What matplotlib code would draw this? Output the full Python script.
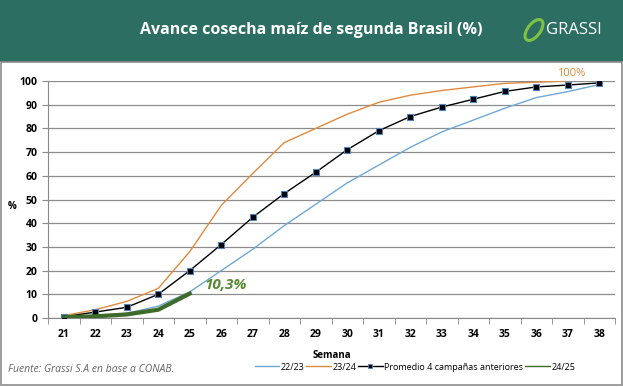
import matplotlib.pyplot as plt
from matplotlib.patches import Rectangle, Ellipse
from matplotlib.lines import Line2D

weeks = [str(w) for w in range(21, 39)]
s2223 = [0.3, 1, 2, 5, 11, 20, 29, 39, 48, 57, 64.5, 72, 78.5, 83.5, 88.5, 93, 95.5, 98.5]
s2324 = [1, 3.5, 7, 12.5, 28, 47.5, 61, 74, 80, 86, 91, 94, 96, 97.5, 99, 99.5, 100]
promedio = [0.5, 2.5, 4.5, 10, 20, 31, 42.5, 52.5, 61.5, 71, 79, 85, 89, 92.3, 95.6, 97.5, 98.3, 99.2]
s2425 = [0.3, 0.7, 1.5, 3.5, 10.3]

plt.rcParams['font.family'] = ['Open Sans', 'DejaVu Sans']

fig = plt.figure(figsize=(6.23, 3.87), dpi=100)
fig.patch.set_facecolor('white')

# header band
fig.patches.append(Rectangle((0, 1 - 62 / 387), 1, 62 / 387, transform=fig.transFigure,
                             facecolor='#2d6e63', edgecolor='none', zorder=0))
# frame
fig.patches.append(Rectangle((0.002, 0.006), 0.996, 1 - 62 / 387 - 0.006, transform=fig.transFigure,
                             facecolor='none', edgecolor='#8c8c8c', lw=1.2, zorder=0))
fig.text(0.50, 1 - 30 / 387, "Avance cosecha maíz de segunda Brasil (%)", color='white',
         fontsize=11.5, fontweight='bold', ha='center', va='center')
# logo
fig.patches.append(Ellipse((534 / 623, 1 - 30 / 387), 14 / 623, 22 / 387, angle=-20,
                           transform=fig.transFigure, facecolor='none', edgecolor='#7dc242', lw=2.2))
fig.text(546 / 623, 1 - 30 / 387, "GRASSI", color='white', fontsize=12, ha='left', va='center')

ax = fig.add_axes([48 / 623, 1 - 318 / 387, 567 / 623, 237 / 387])
x = list(range(len(weeks)))
ax.plot(x, s2223, color='#6fa8d6', lw=1.0, zorder=3)
ax.plot(x[:len(s2324)], s2324, color='#e08a3c', lw=1.0, zorder=3)
ax.plot(x, promedio, color='black', lw=1.0, marker='s', markersize=5,
        markerfacecolor='black', markeredgecolor='#4f81bd', markeredgewidth=0.8, zorder=4)
ax.plot(x[:len(s2425)], s2425, color='#3d6b2a', lw=3.0, zorder=5)

ax.set_xlim(-0.5, len(weeks) - 0.5)
ax.set_ylim(0, 100)
ax.set_yticks(range(0, 101, 10))
ax.set_xticks(x)
ax.set_xticklabels(weeks)
ax.set_xticks([i - 0.5 for i in range(len(weeks) + 1)], minor=True)
ax.tick_params(axis='x', which='major', length=0, pad=8)
ax.tick_params(axis='x', which='minor', length=4, color='#888888', direction='out')
ax.tick_params(axis='y', length=4, color='#888888', direction='out')
for lab in ax.get_xticklabels() + ax.get_yticklabels():
    lab.set_fontsize(7.5)
    lab.set_fontweight('bold')
ax.grid(True, axis='y', color='#8c8c8c', lw=0.9)
ax.set_axisbelow(True)
for side in ['top', 'right']:
    ax.spines[side].set_visible(False)
for side in ['left', 'bottom']:
    ax.spines[side].set_color('#888888')

ax.set_xlabel("Semana", fontsize=7, fontweight='bold', labelpad=7)
fig.text(12 / 623, 1 - 207 / 387, "%", fontsize=7, fontweight='bold', ha='center', va='center')

ax.text(5.13, 14, "10,3%", color='#5b8a33', fontsize=11, fontweight='bold', style='italic',
        ha='center', va='center')
ax.text(16.1, 103, "100%", color='#e08a3c', fontsize=8, ha='center', va='center', clip_on=False)

handles = [
    Line2D([], [], color='#6fa8d6', lw=1.0),
    Line2D([], [], color='#e08a3c', lw=1.0),
    Line2D([], [], color='black', lw=1.0, marker='s', markersize=3.5,
           markerfacecolor='black', markeredgecolor='#4f81bd', markeredgewidth=0.6),
    Line2D([], [], color='#3d6b2a', lw=1.0),
]
labels = ['22/23', '23/24', 'Promedio 4 campañas anteriores', '24/25']
fig.legend(handles, labels, loc='center', bbox_to_anchor=(415 / 623, 1 - 367 / 387), ncol=4,
           frameon=False, fontsize=6.5, handlelength=2.7, columnspacing=0.2, handletextpad=0.2)

fig.text(8 / 623, 1 - 370 / 387, "Fuente: Grassi S.A en base a CONAB.", color='#666666',
         fontsize=7.5, style='italic', ha='left', va='center')

fig.savefig('out.png', dpi=100)
